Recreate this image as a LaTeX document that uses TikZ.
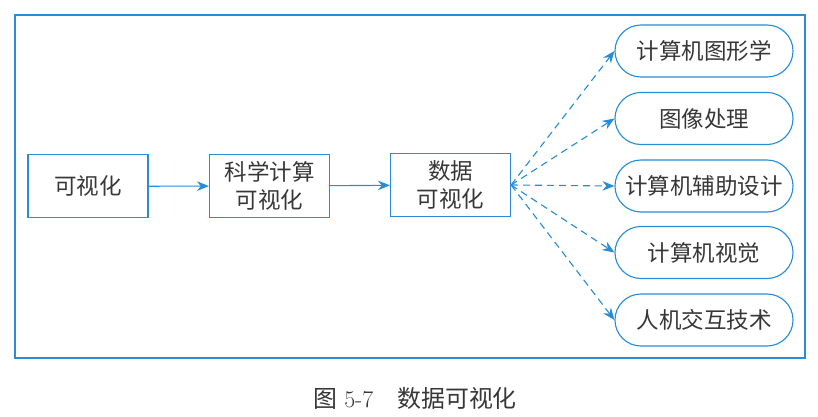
\documentclass[tikz,border=0pt]{standalone}
\usepackage{fontspec}
\newfontfamily\cjk{Noto Sans CJK SC}
\usepackage{tikz}
\usetikzlibrary{positioning,arrows.meta}
\definecolor{lineblue}{RGB}{40,140,215}
\definecolor{txtgray}{RGB}{55,55,55}

\begin{document}
\begin{tikzpicture}[x=0.025cm, y=-0.025cm,
    blk/.style={draw=lineblue, line width=0.8pt, minimum width=3cm, minimum height=1.575cm,
                align=center, text=txtgray, font=\cjk\fontsize{16}{20}\selectfont},
    fld/.style={blk, rounded corners=0.65cm, minimum width=4.45cm, minimum height=1.3cm},
    arr/.style={-{Stealth[length=3mm, width=2.4mm]}, lineblue, line width=0.8pt},
    darr/.style={arr, dash pattern=on 5pt off 3.5pt}
  ]
  \useasboundingbox (0,0) rectangle (818,416);
  \draw[lineblue, line width=0.8pt] (15,15) rectangle (805,358);

  \node[blk] (vis)  at (88,186.3)  {可视化};
  \node[blk] (sci)  at (269.5,186) {科学计算\\可视化};
  \node[blk] (data) at (450.5,185) {数据\\可视化};

  \node[fld] (f1) at (704,51)    {计算机图形学};
  \node[fld] (f2) at (704,118.5) {图像处理};
  \node[fld] (f3) at (704,186)   {计算机辅助设计};
  \node[fld] (f4) at (704,252.5) {计算机视觉};
  \node[fld] (f5) at (704,320)   {人机交互技术};

  \draw[arr] (vis) -- (sci);
  \draw[arr] (sci) -- (data);
  \foreach \f in {f1,f2,f3,f4,f5}
    \draw[darr] (data.east) -- (\f.west);

  \node[text=txtgray, font=\fontsize{17}{20}\selectfont] (cap) at (415,398)
    {{\cjk 图} 5-7\quad{\cjk 数据可视化}};
\end{tikzpicture}
\end{document}
